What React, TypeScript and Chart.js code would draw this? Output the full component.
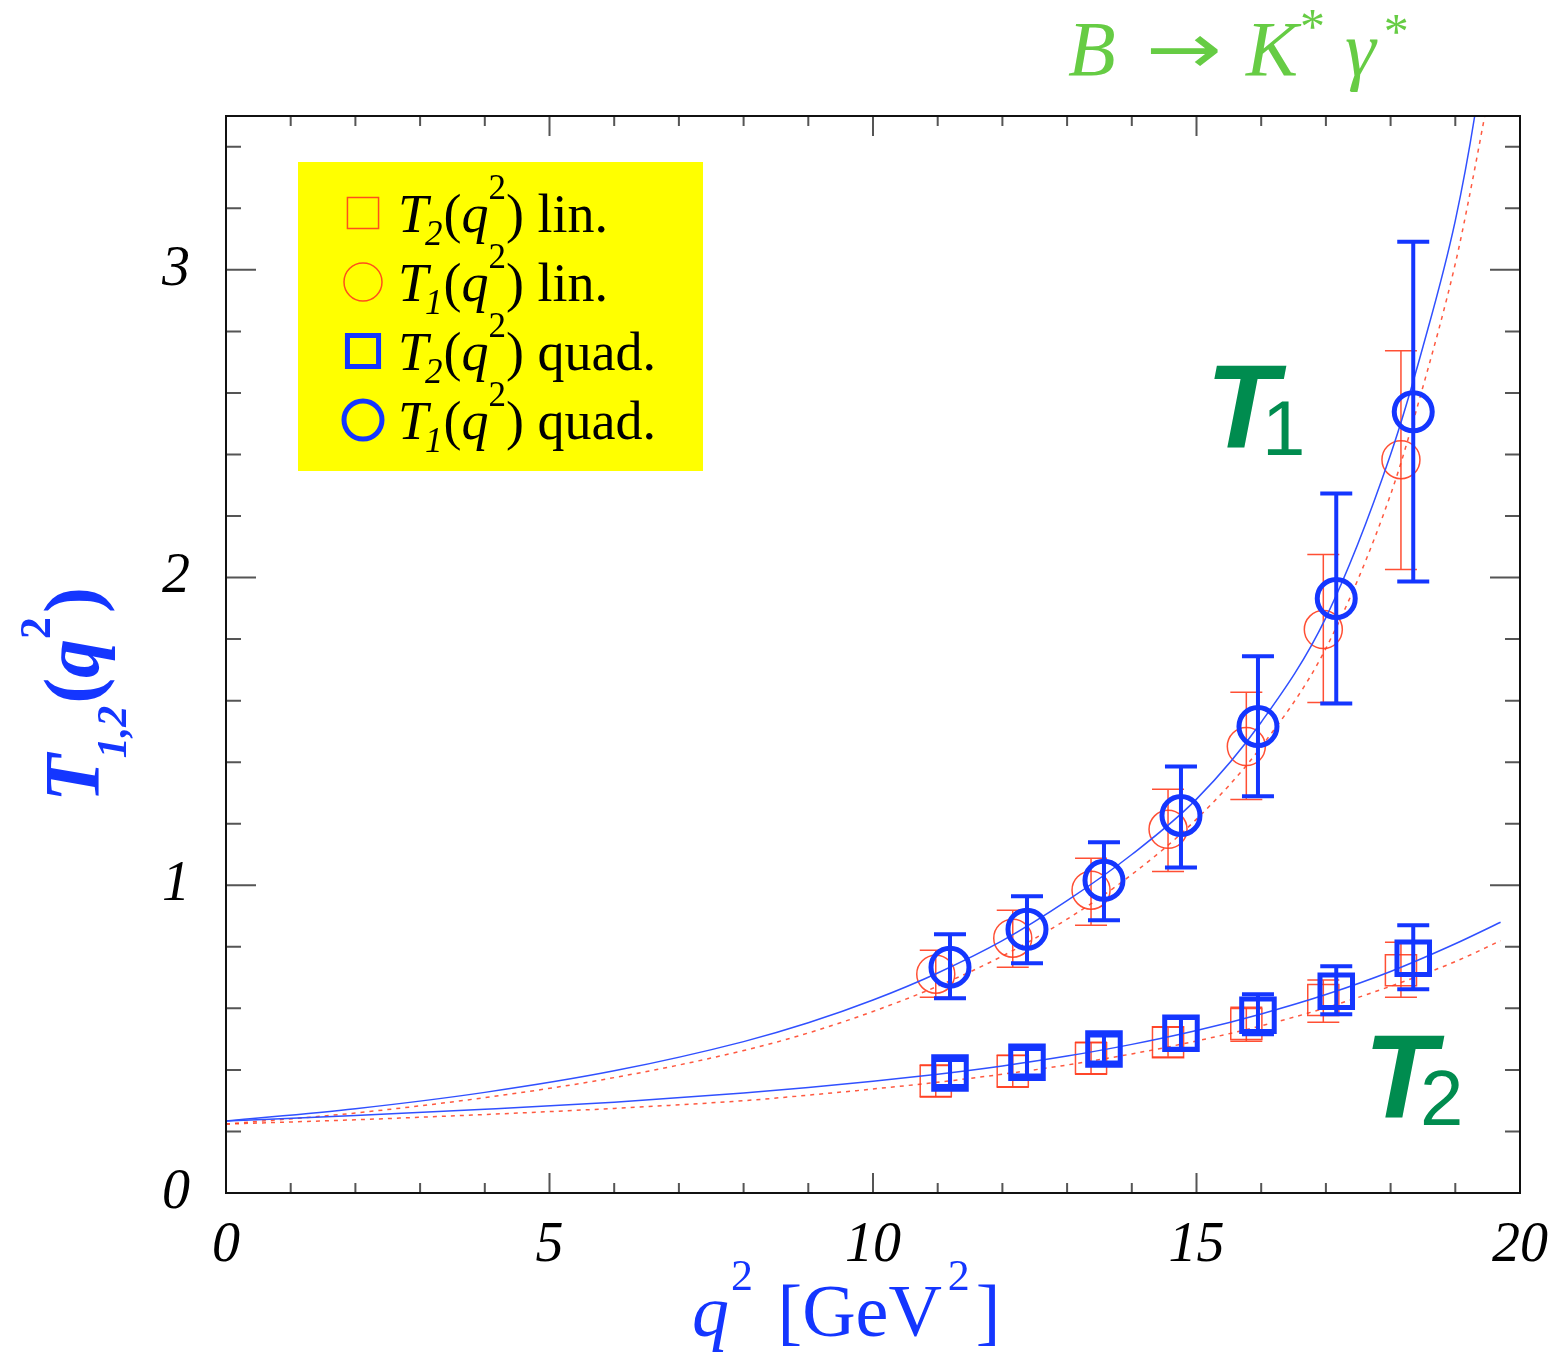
import React, { useEffect, useRef } from 'react';
import { Chart, registerables } from 'chart.js';

Chart.register(...registerables);

// ---------- data ----------
const q2Lin = [10.97, 12.16, 13.37, 14.56, 15.77, 16.96, 18.16];
const q2Quad = [11.19, 12.38, 13.57, 14.76, 15.95, 17.16, 18.35];

const t1Lin = [0.711, 0.828, 0.984, 1.182, 1.451, 1.831, 2.383];
const t1LinHi = [0.789, 0.919, 1.088, 1.312, 1.627, 2.075, 2.737];
const t1LinLo = [0.636, 0.734, 0.870, 1.045, 1.279, 1.594, 2.026];

const t1Quad = [0.734, 0.857, 1.016, 1.227, 1.516, 1.932, 2.539];
const t1QuadHi = [0.841, 0.964, 1.140, 1.386, 1.744, 2.273, 3.091];
const t1QuadLo = [0.633, 0.747, 0.886, 1.058, 1.289, 1.591, 1.987];

const t2Lin = [0.364, 0.396, 0.438, 0.490, 0.549, 0.627, 0.724];
const t2LinHi = [0.416, 0.448, 0.490, 0.539, 0.604, 0.692, 0.815];
const t2LinLo = [0.312, 0.344, 0.386, 0.442, 0.493, 0.555, 0.636];

const t2Quad = [0.390, 0.425, 0.468, 0.519, 0.578, 0.656, 0.763];
const t2QuadHi = [0.432, 0.468, 0.512, 0.569, 0.646, 0.737, 0.870];
const t2QuadLo = [0.348, 0.382, 0.424, 0.469, 0.516, 0.581, 0.662];

// fit curves
const fitT1QuadX = [0, 2, 4, 6, 8, 9, 10, 11, 12, 13, 14, 15, 16, 17, 18, 18.5, 19, 19.3, 19.5];
const fitT1QuadY = [0.234, 0.274, 0.327, 0.397, 0.492, 0.553, 0.627, 0.715, 0.82, 0.95, 1.10, 1.28, 1.53, 1.87, 2.40, 2.75, 3.16, 3.5, 3.8];

const fitT1LinX = [0, 2, 4, 6, 8, 9, 10, 11, 12, 13, 14, 15, 16, 17, 18, 18.5, 19, 19.2, 19.5];
const fitT1LinY = [0.224, 0.26, 0.31, 0.375, 0.463, 0.52, 0.59, 0.672, 0.77, 0.89, 1.035, 1.215, 1.45, 1.77, 2.27, 2.62, 3.02, 3.22, 3.55];

const fitT2QuadX = [0, 2, 4, 6, 8, 9, 10, 11, 12, 13, 14, 15, 16, 17, 18, 19, 19.7];
const fitT2QuadY = [0.234, 0.252, 0.272, 0.295, 0.325, 0.343, 0.363, 0.386, 0.413, 0.445, 0.483, 0.528, 0.582, 0.645, 0.72, 0.81, 0.88];

const fitT2LinX = [0, 2, 4, 6, 8, 9, 10, 11, 12, 13, 14, 15, 16, 17, 18, 19, 19.7];
const fitT2LinY = [0.224, 0.238, 0.255, 0.275, 0.30, 0.318, 0.338, 0.36, 0.386, 0.416, 0.452, 0.494, 0.543, 0.602, 0.672, 0.752, 0.82];

const xTickValues = [0, 5, 10, 15, 20];
const yTickValues = [0, 1, 2, 3];
const legendLabels = ['lin.', 'lin.', 'quad.', 'quad.'];
const legendSub = ['2', '1', '2', '1'];

const BLUE = '#1436ff';
const BLUE_LINE = '#3050ff';
const RED = 'rgba(255,60,30,0.9)';
const GREEN = '#008c4f';
const LGREEN = '#66cc44';
const SERIF = '"Liberation Serif", "Times New Roman", serif';
const SANS = '"Liberation Sans", Arial, sans-serif';

const zip = (xs: number[], ys: number[]) => xs.map((x, i) => ({ x, y: ys[i] }));

type Seg = { t: string; f: string; dy?: number; dx?: number; sx?: number };
function drawRich(ctx: CanvasRenderingContext2D, x: number, y: number, segs: Seg[]) {
  let cx = x;
  for (const s of segs) {
    ctx.font = s.f;
    cx += s.dx || 0;
    const sx = s.sx || 1;
    if (sx !== 1) {
      ctx.save();
      ctx.translate(cx, y + (s.dy || 0));
      ctx.scale(sx, 1);
      ctx.fillText(s.t, 0, 0);
      ctx.restore();
    } else {
      ctx.fillText(s.t, cx, y + (s.dy || 0));
    }
    cx += ctx.measureText(s.t).width * sx;
  }
}

function marker(ctx: CanvasRenderingContext2D, kind: string, x: number, y: number, r: number, color: string, lw: number) {
  ctx.save();
  ctx.strokeStyle = color;
  ctx.lineWidth = lw;
  ctx.beginPath();
  if (kind === 'circle') ctx.arc(x, y, r, 0, Math.PI * 2);
  else {
    const s = r * Math.SQRT1_2;
    ctx.rect(x - s, y - s, 2 * s, 2 * s);
  }
  ctx.stroke();
  ctx.restore();
}

const errorBars = {
  id: 'errorBars',
  afterDatasetDraw(chart: any, args: any) {
    const ds = chart.data.datasets[args.index];
    if (!ds.errHi) return;
    const { ctx, scales } = chart;
    const xs = scales.x, ys = scales.y;
    ctx.save();
    ctx.strokeStyle = ds.errColor;
    ctx.lineWidth = ds.errWidth;
    ds.data.forEach((p: any, i: number) => {
      const px = xs.getPixelForValue(p.x);
      const hi = ys.getPixelForValue(ds.errHi[i]);
      const lo = ys.getPixelForValue(ds.errLo[i]);
      const w = ds.capHalf;
      ctx.beginPath();
      ctx.moveTo(px, hi); ctx.lineTo(px, lo);
      ctx.moveTo(px - w, hi); ctx.lineTo(px + w, hi);
      ctx.moveTo(px - w, lo); ctx.lineTo(px + w, lo);
      ctx.stroke();
    });
    ctx.restore();
  },
};

const decorations = {
  id: 'decorations',
  beforeDatasetsDraw(chart: any) {
    const { ctx, chartArea: a, scales } = chart;
    const xs = scales.x, ys = scales.y;
    ctx.save();
    ctx.strokeStyle = '#555';
    ctx.lineWidth = 2;
    for (let v = 0; v <= 20; v += 1) {
      const px = xs.getPixelForValue(v);
      const len = v % 5 === 0 ? 20 : 10;
      ctx.beginPath();
      ctx.moveTo(px, a.bottom); ctx.lineTo(px, a.bottom - len);
      ctx.moveTo(px, a.top); ctx.lineTo(px, a.top + len);
      ctx.stroke();
    }
    for (let k = 0; k <= 17; k++) {
      const v = k * 0.2;
      const py = ys.getPixelForValue(v);
      const len = k % 5 === 0 ? 30 : 15;
      ctx.beginPath();
      ctx.moveTo(a.left, py); ctx.lineTo(a.left + len, py);
      ctx.moveTo(a.right, py); ctx.lineTo(a.right - len, py);
      ctx.stroke();
    }
    ctx.restore();
  },
  afterDraw(chart: any) {
    const { ctx, chartArea: a } = chart;
    ctx.save();
    // frame
    ctx.strokeStyle = '#111';
    ctx.lineWidth = 2;
    ctx.strokeRect(a.left, a.top, a.right - a.left, a.bottom - a.top);

    // legend box
    ctx.fillStyle = '#ffff00';
    ctx.fillRect(298, 162, 405, 309);
    const rows = [232, 301, 370, 439];
    const kinds = ['rect', 'circle', 'rect', 'circle'];
    const cols = [RED, RED, BLUE, BLUE];
    const lws = [1.5, 1.5, 5, 5];
    const rs = [22, 19, 22, 19];
    rows.forEach((by, i) => {
      marker(ctx, kinds[i], 363, by - 19, rs[i], cols[i], lws[i]);
      ctx.fillStyle = '#000';
      ctx.textBaseline = 'alphabetic';
      drawRich(ctx, 398, by, [
        { t: 'T', f: `italic 54px ${SERIF}` },
        { t: legendSub[i], f: `italic 35px ${SERIF}`, dy: 13, dx: -3 },
        { t: '(', f: `54px ${SERIF}`, dx: 1 },
        { t: 'q', f: `italic 54px ${SERIF}` },
        { t: '2', f: `35px ${SERIF}`, dy: -33, dx: 0 },
        { t: ') ' + legendLabels[i], f: `54px ${SERIF}` },
      ]);
    });

    // T1 / T2 labels
    ctx.fillStyle = GREEN;
    drawRich(ctx, 1206, 448, [
      { t: 'T', f: `italic bold 118px ${SANS}` },
      { t: '1', f: `78px ${SANS}`, dy: 7, dx: -16 },
    ]);
    drawRich(ctx, 1364, 1118, [
      { t: 'T', f: `italic bold 118px ${SANS}` },
      { t: '2', f: `78px ${SANS}`, dy: 7, dx: -16 },
    ]);

    // top-right title
    ctx.fillStyle = LGREEN;
    drawRich(ctx, 1068, 75, [
      { t: 'B', f: `italic 78px ${SERIF}` },
      { t: '\u2192', f: `70px "DejaVu Sans", sans-serif`, dx: 30, dy: -2, sx: 1.3 },
      { t: 'K', f: `italic 78px ${SERIF}`, dx: 24 },
      { t: '*', f: `50px ${SERIF}`, dy: -32, dx: 2 },
      { t: '\u03B3', f: `italic 78px ${SERIF}`, dx: 20 },
      { t: '*', f: `50px ${SERIF}`, dy: -27, dx: 8 },
    ]);

    // x title
    ctx.fillStyle = BLUE;
    drawRich(ctx, 692, 1336, [
      { t: 'q', f: `italic 74px ${SERIF}` },
      { t: '2', f: `44px ${SERIF}`, dy: -46, dx: 2 },
      { t: ' [GeV', f: `74px ${SERIF}`, dx: 6 },
      { t: '2', f: `44px ${SERIF}`, dy: -46, dx: 6 },
      { t: ']', f: `74px ${SERIF}`, dx: 6 },
    ]);

    // y title (rotated)
    ctx.save();
    ctx.translate(98, 802);
    ctx.rotate(-Math.PI / 2);
    drawRich(ctx, 0, 0, [
      { t: 'T', f: `italic bold 78px ${SERIF}` },
      { t: '1,2', f: `italic bold 42px ${SERIF}`, dy: 28, dx: -4 },
      { t: '(', f: `bold 78px ${SERIF}`, dx: 2 },
      { t: 'q', f: `italic bold 78px ${SERIF}` },
      { t: '2', f: `bold 44px ${SERIF}`, dy: -48, dx: 0 },
      { t: ')', f: `bold 78px ${SERIF}`, dx: 4 },
    ]);
    ctx.restore();

    ctx.restore();
  },
};

export default function App() {
  const ref = useRef<HTMLCanvasElement | null>(null);
  useEffect(() => {
    if (!ref.current) return;
    const lineDs = (label: string, xs: number[], ys: number[], color: string, dash: number[], order: number) => ({
      label,
      data: zip(xs, ys),
      showLine: true,
      borderColor: color,
      borderWidth: 1.5,
      borderDash: dash,
      pointRadius: 0,
      cubicInterpolationMode: 'monotone',
      order,
    });
    const ptDs = (label: string, xs: number[], ys: number[], hi: number[], lo: number[], style: string, r: number, color: string, lw: number, capHalf: number, errW: number, order: number) => ({
      label,
      data: zip(xs, ys),
      showLine: false,
      pointStyle: style,
      pointRadius: r,
      pointHoverRadius: r,
      pointBorderWidth: lw,
      pointBorderColor: color,
      pointBackgroundColor: 'rgba(0,0,0,0)',
      errHi: hi,
      errLo: lo,
      errColor: color,
      errWidth: errW,
      capHalf,
      order,
    });
    const chart = new Chart(ref.current, {
      type: 'scatter',
      data: {
        datasets: [
          lineDs('T1 quad fit', fitT1QuadX, fitT1QuadY, BLUE_LINE, [], 2),
          lineDs('T2 quad fit', fitT2QuadX, fitT2QuadY, BLUE_LINE, [], 2),
          lineDs('T1 lin fit', fitT1LinX, fitT1LinY, 'rgba(255,60,30,0.85)', [4, 5], 6),
          lineDs('T2 lin fit', fitT2LinX, fitT2LinY, 'rgba(255,60,30,0.85)', [4, 5], 6),
          ptDs('T2(q2) lin.', q2Lin, t2Lin, t2LinHi, t2LinLo, 'rect', 22, RED, 1.5, 16, 1.5, 5),
          ptDs('T1(q2) lin.', q2Lin, t1Lin, t1LinHi, t1LinLo, 'circle', 19, RED, 1.5, 16, 1.5, 4),
          ptDs('T2(q2) quad.', q2Quad, t2Quad, t2QuadHi, t2QuadLo, 'rect', 23, BLUE, 5, 16, 4, 1),
          ptDs('T1(q2) quad.', q2Quad, t1Quad, t1QuadHi, t1QuadLo, 'circle', 19, BLUE, 5, 16, 4, 0),
        ] as any,
      },
      options: {
        animation: false,
        responsive: false,
        devicePixelRatio: 1,
        layout: { padding: { left: 0, right: 38, top: 116, bottom: 0 } },
        plugins: { legend: { display: false }, tooltip: { enabled: false } },
        events: [],
        scales: {
          x: {
            type: 'linear',
            min: 0,
            max: 20,
            border: { display: false },
            grid: { display: false, drawTicks: false },
            afterBuildTicks: (s: any) => { s.ticks = xTickValues.map((v) => ({ value: v })); },
            ticks: {
              padding: 20,
              color: '#000',
              font: { family: SERIF, size: 56, style: 'italic' },
              maxRotation: 0,
              autoSkip: false,
            },
            afterFit: (s: any) => { s.height = 164; s.paddingLeft = 0; s.paddingRight = 0; },
          },
          y: {
            type: 'linear',
            min: 0,
            max: 3.5,
            border: { display: false },
            grid: { display: false, drawTicks: false },
            afterBuildTicks: (s: any) => { s.ticks = yTickValues.map((v) => ({ value: v })); },
            ticks: {
              padding: 36,
              color: '#000',
              font: { family: SERIF, size: 56, style: 'italic' },
              autoSkip: false,
            },
            afterFit: (s: any) => { s.width = 226; s.paddingTop = 0; s.paddingBottom = 0; },
          },
        },
      } as any,
      plugins: [errorBars, decorations],
    });
    return () => chart.destroy();
  }, []);
  return (
    <div style={{ position: 'absolute', left: 0, top: 0, width: 1558, height: 1357, background: '#fff' }}>
      <canvas ref={ref} width={1558} height={1357} style={{ display: 'block' }} />
    </div>
  );
}
